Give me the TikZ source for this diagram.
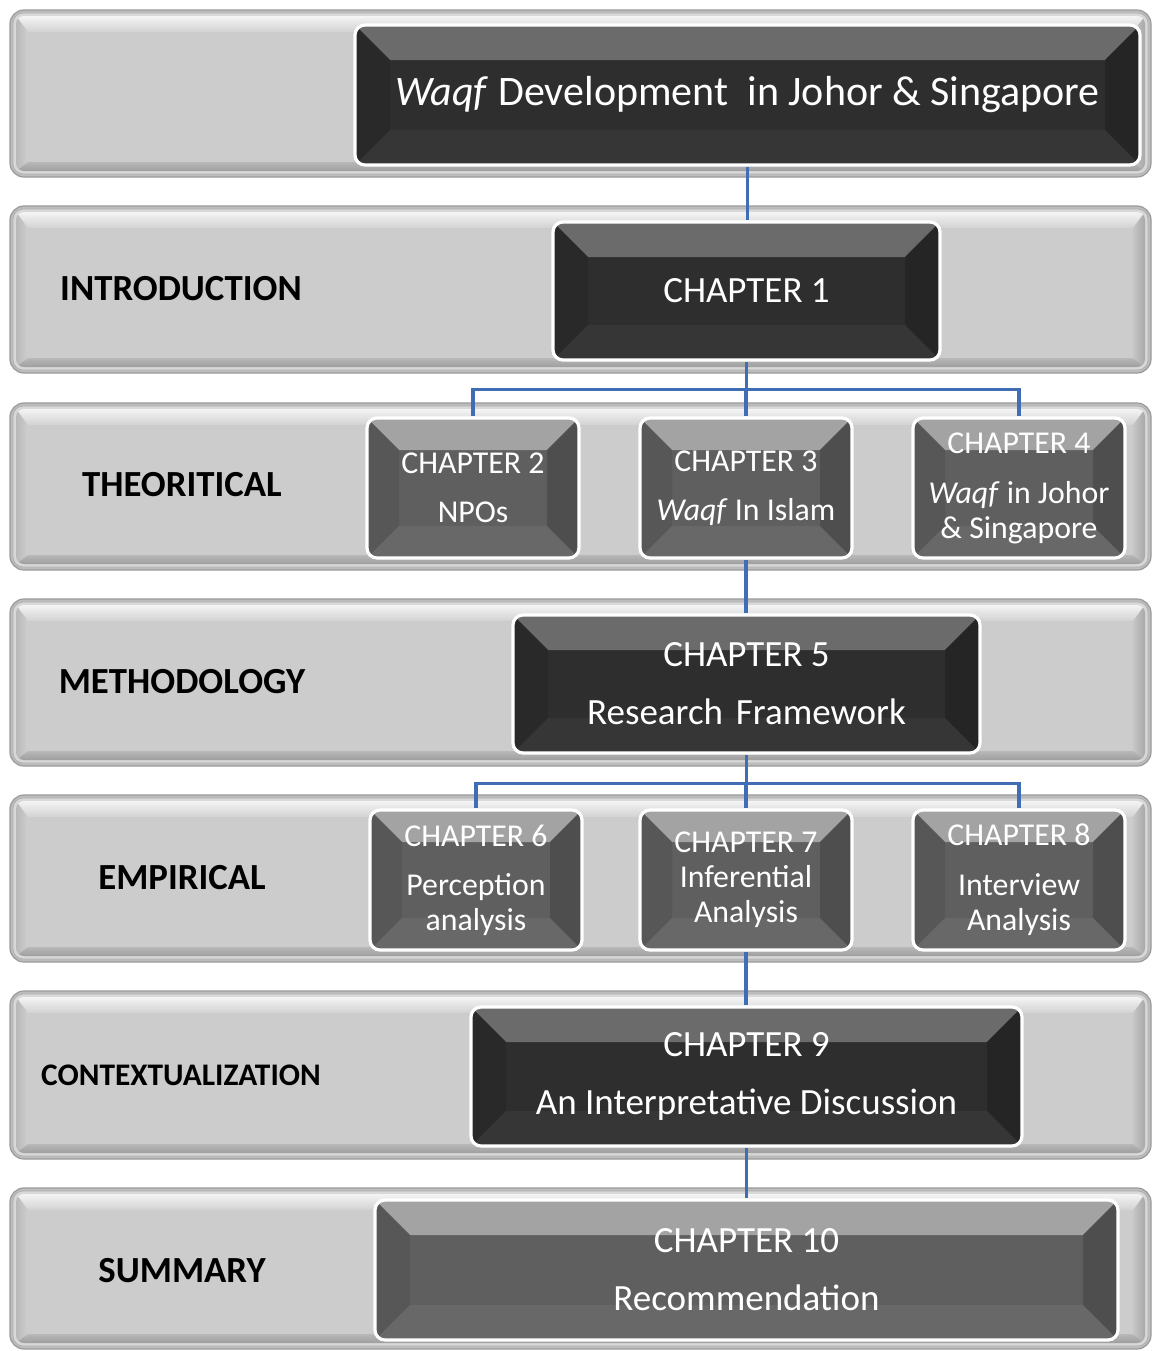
\documentclass[tikz,border=0pt]{standalone}
\usepackage{fontspec}
\setmainfont{Carlito}
\usetikzlibrary{calc}

\pgfdeclarelayer{bandlayer}
\pgfdeclarelayer{linklayer}
\pgfsetlayers{bandlayer,linklayer,main}

% connector colour
\definecolor{linkblue}{HTML}{3F6EB5}
% dark key caps
\definecolor{dkface}{HTML}{2E2E2E}
\definecolor{dktop}{HTML}{6B6B6B}
\definecolor{dkleft}{HTML}{292929}
\definecolor{dkright}{HTML}{252525}
\definecolor{dkbottom}{HTML}{363636}
% grey key caps
\definecolor{gyface}{HTML}{5F5F5F}
\definecolor{gytop}{HTML}{A3A3A3}
\definecolor{gyleft}{HTML}{575757}
\definecolor{gyright}{HTML}{4E4E4E}
\definecolor{gybottom}{HTML}{686868}
% bands
\definecolor{bandrim}{HTML}{BDBDBD}
\definecolor{bandline}{HTML}{9A9A9A}
\definecolor{bandlight}{HTML}{D8D8D8}
\definecolor{bandmid}{HTML}{B0B0B0}
\definecolor{bandface}{HTML}{CCCCCC}
\definecolor{bevtopA}{HTML}{F4F4F4}
\definecolor{bevtopB}{HTML}{D2D2D2}
\definecolor{bevleftA}{HTML}{B8B8B8}
\definecolor{bevleftB}{HTML}{CFCFCF}
\definecolor{bevrightA}{HTML}{C6C6C6}
\definecolor{bevrightB}{HTML}{A8A8A8}
\definecolor{bevbotA}{HTML}{B8B8B8}
\definecolor{bevbotB}{HTML}{9E9E9E}

% one bevelled grey band, from top edge #1 to bottom edge #2 (px)
\newcommand\drawband[2]{%
  \filldraw[fill=bandrim, draw=bandline, line width=0.6pt, rounded corners=7pt]
    (10,#1) rectangle (1151,#2);
  \filldraw[fill=bandlight, draw=bandmid, line width=0.4pt, rounded corners=5pt]
    (13,#1+3) rectangle (1148,#2-3);
  \begin{scope}
    \clip[rounded corners=4pt] (16,#1+6) rectangle (1145,#2-6);
    \shade[top color=bevtopA, bottom color=bevtopB]
      (16,#1+6) -- (1145,#1+6) -- (1133,#1+22) -- (28,#1+22) -- cycle;
    \shade[left color=bevleftA, right color=bevleftB]
      (16,#1+6) -- (28,#1+22) -- (28,#2-15) -- (16,#2-6) -- cycle;
    \shade[left color=bevrightA, right color=bevrightB]
      (1145,#1+6) -- (1133,#1+22) -- (1133,#2-15) -- (1145,#2-6) -- cycle;
    \shade[top color=bevbotA, bottom color=bevbotB]
      (16,#2-6) -- (28,#2-15) -- (1133,#2-15) -- (1145,#2-6) -- cycle;
    \fill[bandface] (28,#1+22) rectangle (1133,#2-15);
  \end{scope}}

\tikzset{
  bevel colors/.code args={#1/#2/#3/#4/#5}{%
    \def\bvT{#1}\def\bvL{#2}\def\bvR{#3}\def\bvB{#4}\def\bvW{#5}},
  keycap/.style={rectangle, rounded corners=5pt, draw=white, line width=1.6pt,
    inner sep=0pt, text=white, align=center,
    path picture={
      \fill[\bvT, sharp corners] (path picture bounding box.north west)
        -- (path picture bounding box.north east)
        -- ($(path picture bounding box.north east)+(-\bvW,-\bvW)$)
        -- ($(path picture bounding box.north west)+(\bvW,-\bvW)$) -- cycle;
      \fill[\bvL, sharp corners] (path picture bounding box.north west)
        -- (path picture bounding box.south west)
        -- ($(path picture bounding box.south west)+(\bvW,\bvW)$)
        -- ($(path picture bounding box.north west)+(\bvW,-\bvW)$) -- cycle;
      \fill[\bvR, sharp corners] (path picture bounding box.north east)
        -- (path picture bounding box.south east)
        -- ($(path picture bounding box.south east)+(-\bvW,\bvW)$)
        -- ($(path picture bounding box.north east)+(-\bvW,-\bvW)$) -- cycle;
      \fill[\bvB, sharp corners] (path picture bounding box.south west)
        -- (path picture bounding box.south east)
        -- ($(path picture bounding box.south east)+(-\bvW,\bvW)$)
        -- ($(path picture bounding box.south west)+(\bvW,\bvW)$) -- cycle;
    }},
  darkcap/.style={keycap, fill=dkface,
    bevel colors={dktop/dkleft/dkright/dkbottom/17.5pt},
    font=\fontsize{18.5}{29}\selectfont},
  greycap/.style={keycap, fill=gyface,
    bevel colors={gytop/gyleft/gyright/gybottom/16pt},
    font=\fontsize{15.9}{17.5}\selectfont},
  widegrey/.style={greycap,
    bevel colors={gytop/gyleft/gyright/gybottom/17.5pt},
    font=\fontsize{18.5}{29}\selectfont},
  smallcap/.style={greycap, minimum width=106pt, minimum height=70pt},
  bandlabel/.style={inner sep=0pt, text=black,
    font=\bfseries\fontsize{18.4}{20}\selectfont},
  link/.style={draw=linkblue, line width=1.8pt, line join=miter},
}

\begin{document}
\begin{tikzpicture}[x=0.5pt, y=-0.5pt]
  \useasboundingbox (0,0) rectangle (1152,1351);

  \begin{pgfonlayer}{bandlayer}
    \fill[white] (0,0) rectangle (1152,1351);
    \drawband{10}{177}
    \drawband{206}{373}
    \drawband{403}{570}
    \drawband{599}{766}
    \drawband{795}{962}
    \drawband{991}{1159}
    \drawband{1188}{1349}
  \end{pgfonlayer}

  % band titles
  \node[bandlabel] (lintro) at (181,289) {INTRODUCTION};
  \node[bandlabel] (ltheo)  at (182,485) {THEORITICAL};
  \node[bandlabel] (lmeth)  at (182,682) {METHODOLOGY};
  \node[bandlabel] (lemp)   at (182,878) {EMPIRICAL};
  \node[bandlabel, font=\bfseries\fontsize{15.7}{18}\selectfont]
                   (lctx)   at (181,1075) {CONTEXTUALIZATION};
  \node[bandlabel] (lsum)   at (182,1271) {SUMMARY};

  % chapters
  \node[darkcap, minimum width=392.5pt, minimum height=70pt,
        font=\fontsize{21}{25}\selectfont]
        (top) at (747.5,95) {\textit{Waqf} Development\ \ in Johor \& Singapore};
  \node[darkcap, minimum width=193.5pt, minimum height=69pt]
        (c1) at (746.5,291) {CHAPTER 1};
  \node[smallcap] (c2) at (473,488) {CHAPTER 2\\[7pt]NPOs};
  \node[smallcap] (c3) at (746,488) {CHAPTER 3\\[7pt]\textit{Waqf} In Islam};
  \node[smallcap] (c4) at (1019,488) {CHAPTER 4\\[7.5pt]\textit{Waqf} in Johor\\\& Singapore};
  \node[darkcap, minimum width=233.5pt, minimum height=69pt]
        (c5) at (746.5,684) {CHAPTER 5\\Research\hspace{0.12em} Framework};
  \node[smallcap] (c6) at (476,880) {CHAPTER 6\\[7pt]Perception\\analysis};
  \node[smallcap] (c7) at (746,880) {CHAPTER 7\\Inferential\\Analysis};
  \node[smallcap] (c8) at (1019,880) {CHAPTER 8\\[7.5pt]Interview\\Analysis};
  \node[darkcap, minimum width=275.5pt, minimum height=69.5pt]
        (c9) at (746.5,1076.5) {CHAPTER 9\\An Interpretative Discussion};
  \node[widegrey, minimum width=371.5pt, minimum height=70pt]
        (c10) at (746.5,1270) {CHAPTER 10\\Recommendation};

  % connectors
  \begin{pgfonlayer}{linklayer}
    \coordinate (j1) at ([yshift=-14pt]c1.south);
    \coordinate (j2) at ([yshift=-14.5pt]c5.south);
    \draw[link] (top.south) -- (top.south |- c1.north);
    \draw[link] (c1.south) -- (j1) -| (c2.north);
    \draw[link] (j1) -| (c4.north);
    \draw[link] (j1) -- (j1 -| c3.north) -- (c3.north);
    \draw[link] (c3.south) -- (c3.south |- c5.north);
    \draw[link] (c5.south) -- (j2) -| (c6.north);
    \draw[link] (j2) -| (c8.north);
    \draw[link] (j2) -- (j2 -| c7.north) -- (c7.north);
    \draw[link] (c7.south) -- (c7.south |- c9.north);
    \draw[link] (c9.south) -- (c9.south |- c10.north);
  \end{pgfonlayer}
\end{tikzpicture}
\end{document}
